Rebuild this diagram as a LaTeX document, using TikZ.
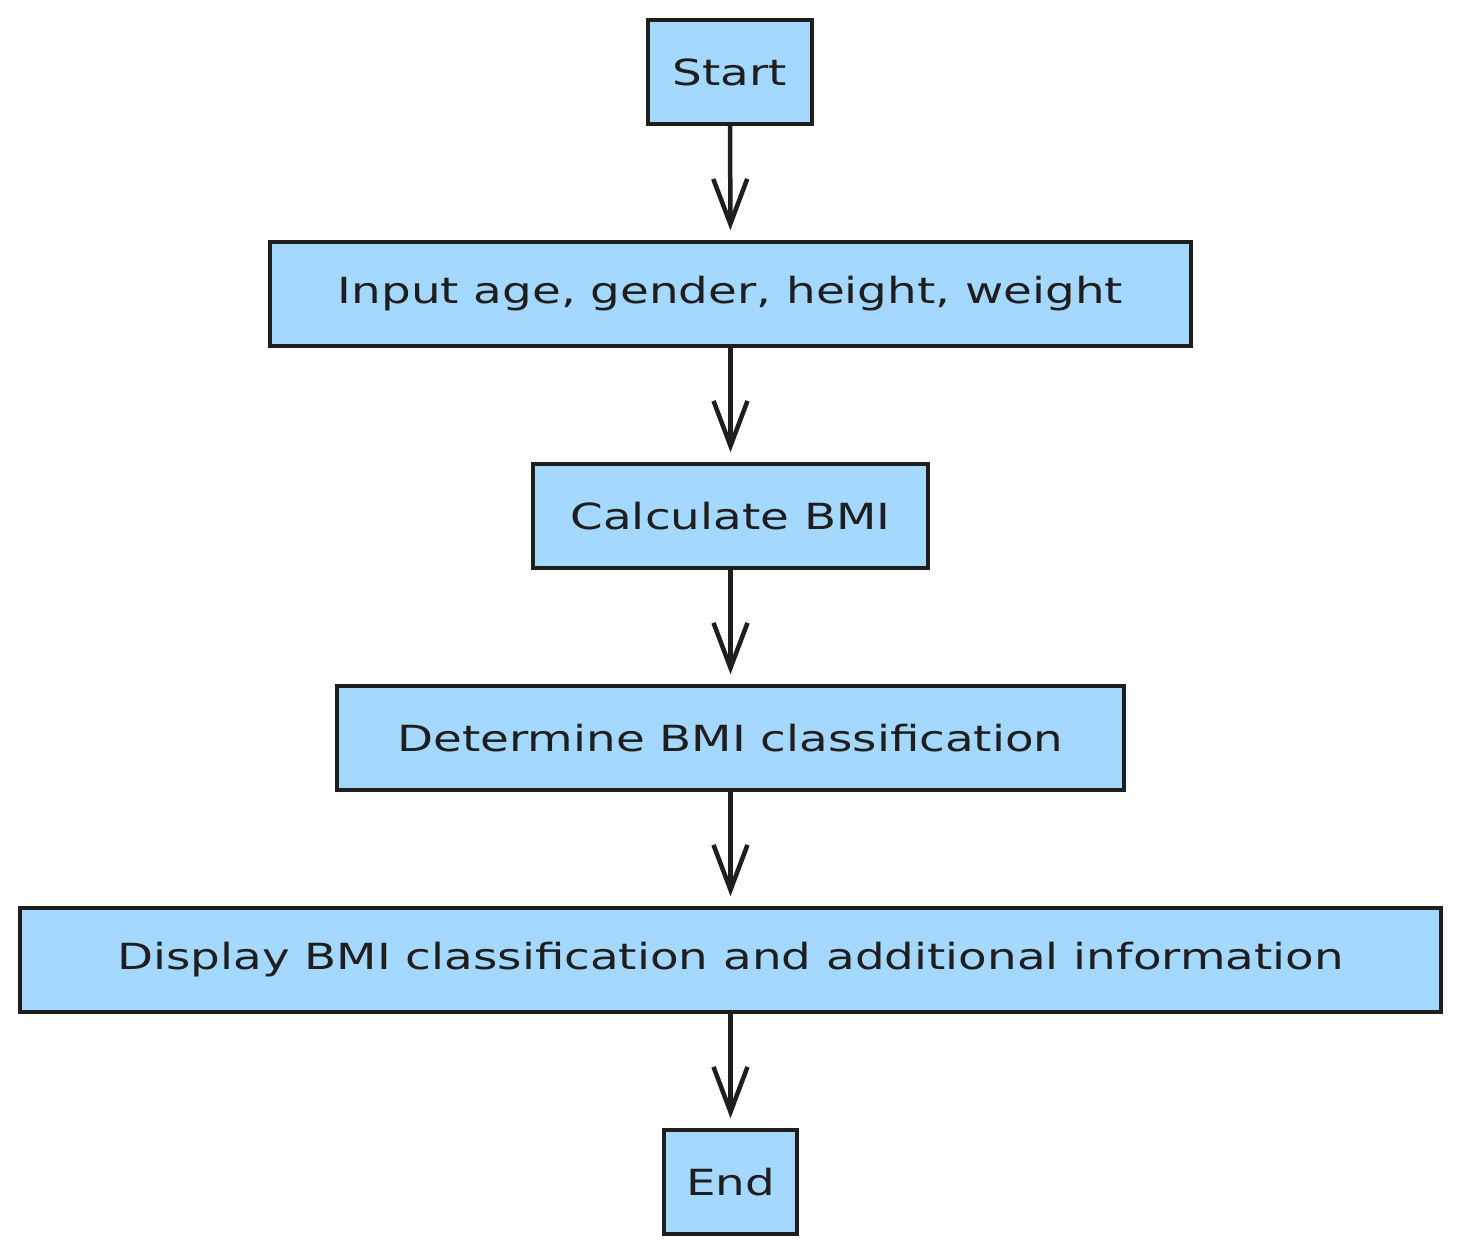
\documentclass[tikz,border=0pt]{standalone}
\usepackage{fontspec}
\newfontfamily\handfont[FakeStretch=1.3]{DejaVu Sans}
\usetikzlibrary{arrows.meta}
\definecolor{boxfill}{HTML}{A5D8FF}
\definecolor{ink}{HTML}{1E1E1E}
\tikzset{
  flowbox/.style={draw=ink, fill=boxfill, line width=3.5pt, rectangle,
    minimum height=104pt, inner sep=0pt,
    font=\handfont\fontsize{36}{42}\selectfont, text=ink},
  flowarrow/.style={draw=ink, line width=4.5pt,
    -{Straight Barb[length=45pt,width=34pt]}, shorten >=10pt}
}
\begin{document}
\begin{tikzpicture}[x=1pt,y=-1pt]
\useasboundingbox[fill=white] (0,0) rectangle (1461,1253);
\node[flowbox, minimum width=164pt] (start) at (730,72) {Start};
\node[flowbox, minimum width=921pt] (input) at (730.5,294) {Input age, gender, height, weight};
\node[flowbox, minimum width=395pt] (calc) at (730.5,516) {Calculate BMI};
\node[flowbox, minimum width=787pt] (determine) at (730.5,738) {Determine BMI classification};
\node[flowbox, minimum width=1421pt] (display) at (730.5,960) {Display BMI classification and additional information};
\node[flowbox, minimum width=133pt] (end) at (730.5,1182) {End};
\draw[flowarrow] (start) -- (input);
\draw[flowarrow] (input) -- (calc);
\draw[flowarrow] (calc) -- (determine);
\draw[flowarrow] (determine) -- (display);
\draw[flowarrow] (display) -- (end);
\end{tikzpicture}
\end{document}
